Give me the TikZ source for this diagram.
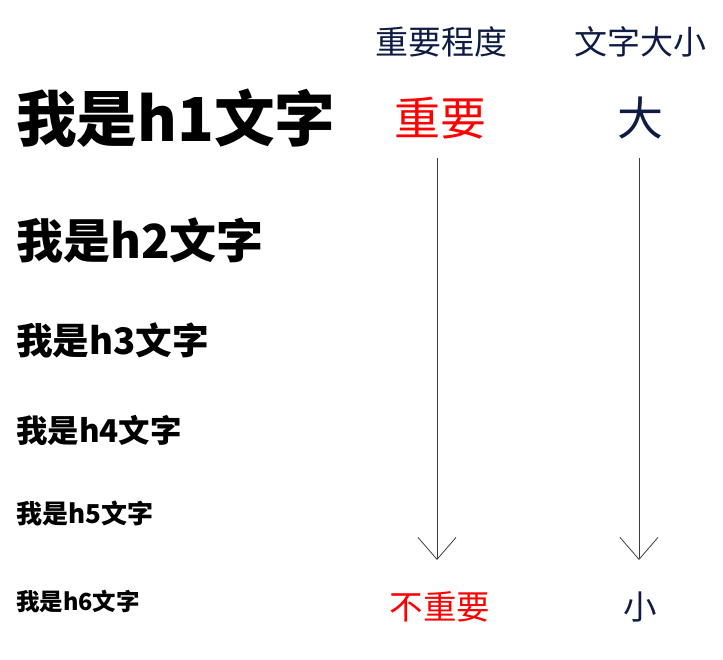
\documentclass[tikz,border=0pt]{standalone}
\usepackage{fontspec}
\setmainfont{Noto Sans CJK SC}
\usetikzlibrary{arrows.meta}
\definecolor{navyText}{RGB}{14, 27, 66}
\definecolor{importRed}{RGB}{255, 0, 0}
\definecolor{arrowGray}{RGB}{60, 60, 60}

\begin{document}
\begin{tikzpicture}[
  x=1pt, y=-1pt,
  every node/.style={inner sep=0pt},
  heading/.style={anchor=west, font=\bfseries\fontsize{#1}{#1}\selectfont},
  colhead/.style={navyText, font=\fontsize{33}{33}\selectfont},
  bigmark/.style={font=\fontsize{46}{46}\selectfont},
  smallmark/.style={font=\fontsize{33.5}{33.5}\selectfont},
  scale line/.style={arrowGray, line width=0.8pt, -{Straight Barb[length=22pt, width=38pt, line width=0.8pt]}}
]
  \useasboundingbox (0,0) rectangle (723,659);

  % headings h1 ... h6
  \node[heading=60.6] (h1) at (16,118) {我是h1文字};
  \node[heading=47] (h2) at (16,240) {我是h2文字};
  \node[heading=36.6] (h3) at (16,340) {我是h3文字};
  \node[heading=31.4] (h4) at (16,430) {我是h4文字};
  \node[heading=26] (h5) at (16,513) {我是h5文字};
  \node[heading=23.5] (h6) at (16,601) {我是h6文字};

  % column headers
  \node[colhead] (importance) at (441,42) {重要程度};
  \node[colhead] (fontsize)   at (640,42) {文字大小};

  % ends of each scale
  \node[bigmark, importRed]  (important) at (440,118) {重要};
  \node[bigmark, navyText]   (large)     at (640,118) {大};
  \node[smallmark, importRed] (minor)    at (440,607) {不重要};
  \node[smallmark, navyText]  (small)    at (640,607) {小};

  \coordinate (impTop) at (437,158);
  \coordinate (impEnd) at (437,560);
  \coordinate (sizeTop) at (639,158);
  \coordinate (sizeEnd) at (639,560);

  \draw[scale line] (impTop) -- (impEnd);
  \draw[scale line] (sizeTop) -- (sizeEnd);
\end{tikzpicture}
\end{document}
